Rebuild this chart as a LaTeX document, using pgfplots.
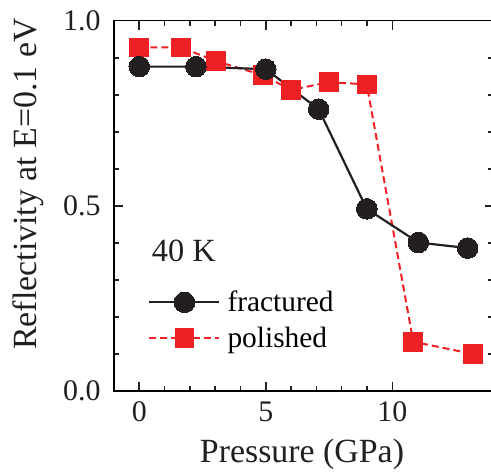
\documentclass[border=0pt]{standalone}
\usepackage{fontspec}
\setmainfont{Liberation Serif}
\usepackage{pgfplots}
\pgfplotsset{compat=1.18}
\definecolor{myred}{RGB}{237,32,36}
\definecolor{myblack}{RGB}{35,31,32}
\begin{document}
\begin{tikzpicture}
\begin{axis}[
  scale only axis,
  width=379.5bp, height=370.3bp,
  xmin=-1, xmax=14, ymin=0, ymax=1,
  xtick={0,5,10}, minor x tick num=4,
  ytick={0,0.5,1}, yticklabels={0.0,0.5,1.0}, minor y tick num=4,
  major tick length=9bp, minor tick length=5.5bp,
  tick style={line width=1.6bp, myblack},
  axis line style={line width=1.3bp},
  /pgf/number format/assume math mode=true,
  tick label style={font=\fontsize{30}{36}\selectfont, text=myblack},
  xticklabel style={yshift=-7bp},
  yticklabel style={xshift=-10bp},
  xlabel={Pressure (GPa)},
  ylabel={Reflectivity at E=0.1 eV},
  every axis x label/.style={at={(axis description cs:0.4954,-0.1944)}, anchor=base, font=\fontsize{34}{40}\selectfont, text=myblack},
  every axis y label/.style={at={(axis description cs:-0.2055,0.559)}, anchor=base, rotate=90, font=\fontsize{34}{40}\selectfont, text=myblack},
  legend style={draw=none, fill=none, at={(axis cs:0.35,0.27)}, anchor=north west,
    font=\fontsize{29.5}{35}\selectfont, nodes={inner sep=0pt}, column sep=7bp, row sep=13.5bp, inner sep=0pt},
  legend cell align=left,
  reverse legend,
  legend image code/.code={\draw[mark repeat=2,mark phase=2,#1] plot coordinates {(0bp,0bp) (35bp,0bp) (70bp,0bp)};},
]
\addplot[myred, line width=2bp, dash pattern=on 7bp off 4bp, mark=square*, mark size=9.3bp, mark options={solid, fill=myred, draw=myred, line width=0pt}]
  coordinates {(0,0.928) (1.64,0.928) (3.03,0.891) (4.88,0.853) (6.0,0.813) (7.49,0.834) (8.99,0.828) (10.83,0.133) (13.18,0.100)};
\addplot[myblack, line width=2.2bp, mark=*, mark size=10.3bp, mark options={solid, fill=myblack, draw=myblack, line width=0pt}]
  coordinates {(0,0.876) (2.24,0.876) (5.0,0.869) (7.09,0.761) (8.99,0.492) (11.03,0.401) (12.98,0.386)};
\legend{polished,fractured}
\node[anchor=base west, inner sep=0pt, font=\fontsize{32.5}{38}\selectfont, text=myblack] at (axis cs:0.49,0.349) {40 K};
\coordinate (O) at (rel axis cs:0,0);
\end{axis}
\pgfresetboundingbox
\path (O) ++(-114bp,-85bp) rectangle ++(491bp,476bp);
\end{tikzpicture}
\end{document}
